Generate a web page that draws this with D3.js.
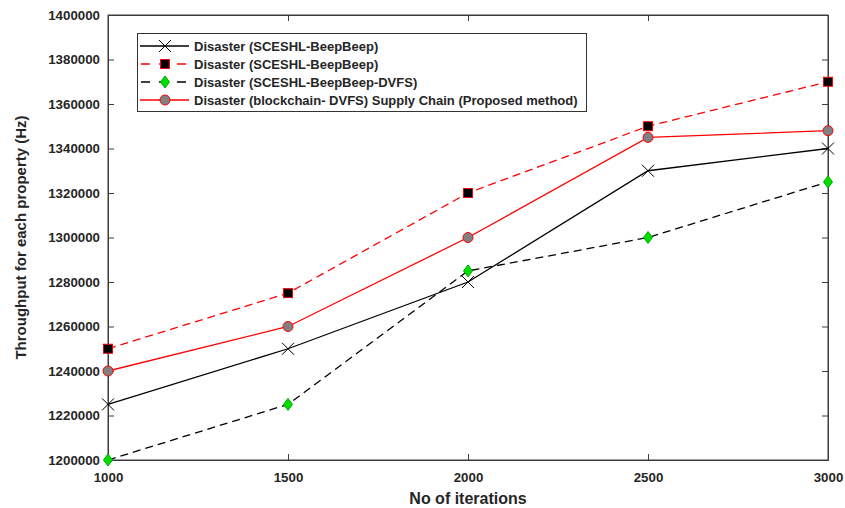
<!DOCTYPE html>
<html>
<head>
<meta charset="utf-8">
<script src="https://cdn.jsdelivr.net/npm/d3@7/dist/d3.min.js"></script>
<style>
  html, body { margin: 0; padding: 0; background: #fff; }
  svg { display: block; font-family: "Liberation Sans", Arial, sans-serif; }
</style>
</head>
<body>
<svg id="chart" width="845" height="508"></svg>
<script>
// Iteration counts on the x axis
const iterations = [1000, 1500, 2000, 2500, 3000];

// Throughput (Hz) per series
const beepBeep = [1225000, 1250000, 1280000, 1330000, 1340000];
const beepBeepDashed = [1250000, 1275000, 1320000, 1350000, 1370000];
const beepBeepDvfs = [1200000, 1225000, 1285000, 1300000, 1325000];
const proposed = [1240000, 1260000, 1300000, 1345000, 1348000];

const seriesNames = [
  "Disaster (SCESHL-BeepBeep)",
  "Disaster (SCESHL-BeepBeep)",
  "Disaster (SCESHL-BeepBeep-DVFS)",
  "Disaster (blockchain- DVFS) Supply Chain (Proposed method)"
];

const yTicks = [1200000, 1220000, 1240000, 1260000, 1280000, 1300000,
                1320000, 1340000, 1360000, 1380000, 1400000];

const svg = d3.select("#chart");
const margin = { left: 108, right: 17, top: 15, bottom: 48 };
const W = 845, H = 508;
const x = d3.scaleLinear().domain([1000, 3000]).range([margin.left, W - margin.right]);
const y = d3.scaleLinear().domain([1200000, 1400000]).range([H - margin.bottom, margin.top]);

const axisColor = "#3c3c3c";
const textColor = "#262626";

// Frame
svg.append("rect")
  .attr("x", x(1000)).attr("y", y(1400000))
  .attr("width", x(3000) - x(1000)).attr("height", y(1200000) - y(1400000))
  .attr("fill", "none").attr("stroke", axisColor).attr("stroke-width", 1);

// Axes with inward ticks
const xAxis = svg.append("g").attr("transform", `translate(0,${y(1200000)})`)
  .call(d3.axisBottom(x).tickValues(iterations).tickSize(-6).tickPadding(13).tickFormat(d3.format("d")));
const xTop = svg.append("g").attr("transform", `translate(0,${y(1400000)})`)
  .call(d3.axisTop(x).tickValues(iterations).tickSize(-6).tickFormat(""));
const yAxis = svg.append("g").attr("transform", `translate(${x(1000)},0)`)
  .call(d3.axisLeft(y).tickValues(yTicks).tickSize(-6).tickPadding(8).tickFormat(d3.format("d")));
const yRight = svg.append("g").attr("transform", `translate(${x(3000)},0)`)
  .call(d3.axisRight(y).tickValues(yTicks).tickSize(-6).tickFormat(""));

[xAxis, xTop, yAxis, yRight].forEach(g => {
  g.select(".domain").attr("stroke", axisColor);
  g.selectAll(".tick line").attr("stroke", axisColor);
  g.selectAll(".tick text").attr("fill", textColor)
    .style("font-size", "13.3px").style("font-weight", "bold")
    .style("font-family", "'Liberation Sans', Arial, sans-serif");
});
xAxis.selectAll(".tick text").attr("dy", "0.71em");

// Axis titles
svg.append("text")
  .attr("x", (x(1000) + x(3000)) / 2).attr("y", 504)
  .attr("text-anchor", "middle").attr("fill", textColor)
  .style("font-size", "16px").style("font-weight", "bold")
  .text("No of iterations");
svg.append("text")
  .attr("transform", `translate(26,${(y(1200000) + y(1400000)) / 2}) rotate(-90)`)
  .attr("text-anchor", "middle").attr("fill", textColor)
  .style("font-size", "15px").style("font-weight", "bold")
  .text("Throughput for each property (Hz)");

const series = [
  { values: beepBeep, stroke: "#000", dash: null, marker: "x" },
  { values: beepBeepDashed, stroke: "#ff0000", dash: "8,5", marker: "square" },
  { values: beepBeepDvfs, stroke: "#000", dash: "8,5", marker: "diamond" },
  { values: proposed, stroke: "#ff0000", dash: null, marker: "circle" }
];

function drawMarker(g, type, cx, cy) {
  if (type === "x") {
    const s = 6;
    g.append("path")
      .attr("d", `M${cx - s},${cy - s}L${cx + s},${cy + s}M${cx - s},${cy + s}L${cx + s},${cy - s}`)
      .attr("stroke", "#000").attr("stroke-width", 1).attr("fill", "none");
  } else if (type === "square") {
    g.append("rect").attr("x", cx - 4.5).attr("y", cy - 4.5).attr("width", 9).attr("height", 9)
      .attr("fill", "#000").attr("stroke", "#ff0000").attr("stroke-width", 1);
  } else if (type === "diamond") {
    g.append("path")
      .attr("d", `M${cx},${cy - 6}L${cx + 4.5},${cy}L${cx},${cy + 6}L${cx - 4.5},${cy}Z`)
      .attr("fill", "#00dd00").attr("stroke", "#00aa00").attr("stroke-width", 1);
  } else if (type === "circle") {
    g.append("circle").attr("cx", cx).attr("cy", cy).attr("r", 5)
      .attr("fill", "#808080").attr("stroke", "#ff0000").attr("stroke-width", 1);
  }
}

const line = d3.line().x(d => x(d[0])).y(d => y(d[1]));
series.forEach(s => {
  const pts = iterations.map((it, i) => [it, s.values[i]]);
  svg.append("path").datum(pts).attr("d", line)
    .attr("fill", "none").attr("stroke", s.stroke).attr("stroke-width", 1.3)
    .attr("stroke-dasharray", s.dash);
  const mg = svg.append("g");
  pts.forEach(p => drawMarker(mg, s.marker, x(p[0]), y(p[1])));
});

// Legend
const lg = svg.append("g");
lg.append("rect").attr("x", 137.5).attr("y", 33.5).attr("width", 449).attr("height", 78)
  .attr("fill", "#fff").attr("stroke", "#333").attr("stroke-width", 1);
series.forEach((s, i) => {
  const ly = 46 + i * 18;
  lg.append("line").attr("x1", 140).attr("x2", 189).attr("y1", ly).attr("y2", ly)
    .attr("stroke", s.stroke).attr("stroke-width", 1.3).attr("stroke-dasharray", s.dash ? "9,9" : null)
    .attr("stroke-dashoffset", s.dash ? -1 : null);
  drawMarker(lg, s.marker, 165, ly);
  lg.append("text").attr("x", 194).attr("y", ly).attr("dy", "0.35em")
    .attr("fill", textColor).style("font-size", "13px").style("font-weight", "bold")
    .text(seriesNames[i]);
});
</script>
</body>
</html>
